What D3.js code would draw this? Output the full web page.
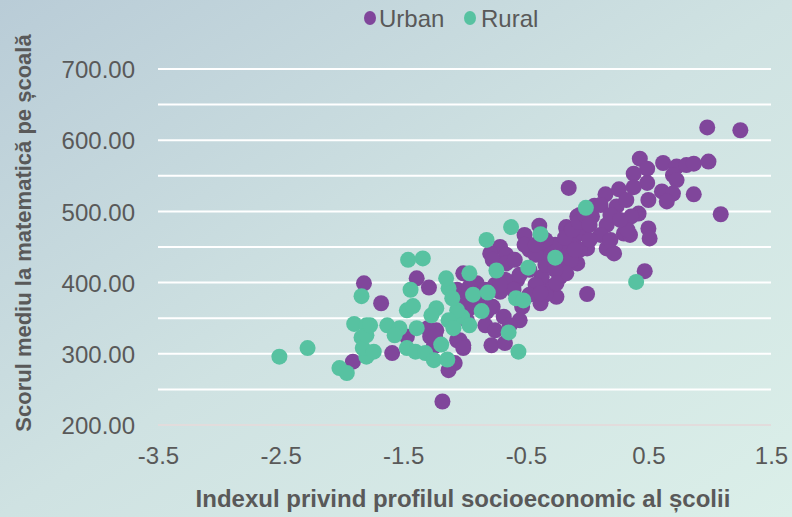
<!DOCTYPE html>
<html>
<head>
<meta charset="utf-8">
<script src="https://cdn.jsdelivr.net/npm/d3@7/dist/d3.min.js"></script>
<style>
  html, body { margin: 0; padding: 0; background: #ffffff; }
  svg { display: block; }
</style>
</head>
<body>
<svg id="chart" width="792" height="517"></svg>
<script>
// ---- Data ----
const seriesNames = ["Urban", "Rural"];
const xTicks = [-3.5, -2.5, -1.5, -0.5, 0.5, 1.5];
const yTicks = [200, 300, 400, 500, 600, 700];
const yGrid = [250, 300, 350, 400, 450, 500, 550, 600, 650, 700];

const urbanX = [-1.82,-1.91,-1.68,-1.59,-1.47,-1.39,-1.29,-1.23,-1.28,-1.25,-1.18,-1.08,-1.13,-1.06,-1.01,-0.98,-1.06,-1.01,-0.90,-0.83,
  -0.78,-0.67,-0.68,-0.77,-0.53,-0.38,-0.25,-0.32,-0.37,-0.57,-0.22,-0.22,-0.17,-0.11,-0.17,-0.22,-0.06,-0.39,-0.51,-0.71,
  -0.79,-0.66,-0.77,-0.66,0.98,1.25,0.43,0.62,0.49,0.73,0.81,0.87,0.99,0.70,0.73,0.38,0.49,-0.15,0.15,0.26,
  0.38,0.61,0.70,0.87,0.50,0.65,0.24,0.32,0.42,1.09,0.06,0.16,-0.17,0.30,0.50,0.51,0.35,-0.47,-0.32,0.00,
  0.16,0.22,-0.08,0.47,0.00,0.36,0.33,-0.08,-0.13,-0.03,0.04,-0.17,-0.06,-0.13,-0.17,
  -0.89,-0.83,-0.75,-0.67,-0.60,-0.55,-0.47,-0.42,-0.34,-0.30,-0.26,-0.18,-0.12,-0.07,-0.02,0.02,0.11,0.19,0.11,0.02,
  -0.10,-0.26,-0.34,-0.47,-0.59,-0.51,-0.42,-0.34,-0.71,-0.82,-0.96,-1.02,-0.96,-1.30,-1.24,-1.04,-1.01,-0.79,-0.96,-0.71,
  -0.38,-0.25,-0.55,-0.63,-0.75,0.27,0.19,-0.42];
const urbanY = [399,289,371,301,324,406,393,333,324,310,233,287,277,319,312,347,390,413,399,340,
  312,315,352,366,366,371,380,394,408,404,408,422,439,460,478,450,495,480,467,450,
  441,439,432,427,618,614,574,568,560,563,565,567,570,551,544,553,540,533,524,531,
  534,528,525,524,516,514,507,516,497,496,508,481,476,469,476,462,467,446,446,448,
  448,441,427,416,384,493,474,493,474,469,493,450,446,432,413,
  376,390,397,404,390,411,418,397,425,439,453,463,474,485,495,481,509,495,467,460,
  446,418,383,383,432,453,439,460,387,359,364,376,390,336,324,319,308,366,394,397,
  385,399,347,340,333,488,460,453];

const ruralX = [-2.51,-2.28,-2.02,-1.96,-1.90,-1.84,-1.84,-1.80,-1.80,-1.83,-1.80,-1.74,-1.77,-1.63,-1.53,-1.39,-1.57,-1.47,-1.40,-1.32,
  -1.25,-1.19,-1.14,-1.47,-1.42,-1.23,-1.27,-1.02,-1.06,-0.86,-1.13,-1.09,-0.96,-0.64,-0.56,-1.44,-1.13,-0.93,-0.81,-0.58,
  -0.52,-1.10,-1.15,-0.96,-0.74,-0.48,-1.46,-1.34,-0.26,-0.82,-0.62,-0.38,-0.01,0.40];
const ruralY = [296,308,280,273,342,381,323,340,296,308,326,303,340,340,336,336,326,308,303,301,
  291,313,292,361,367,364,354,352,361,360,347,336,340,330,303,390,392,383,386,378,
  375,378,406,413,417,421,432,434,435,460,478,468,505,401];

const colors = { Urban: "#80469b", Rural: "#57c2a1" };

// ---- Layout ----
const W = 792, H = 517;
const plot = { left: 158, right: 771, top: 69, bottom: 425 };
const svg = d3.select("#chart");

const defs = svg.append("defs");
const grad = defs.append("linearGradient").attr("id", "bg")
  .attr("x1", "0%").attr("y1", "0%").attr("x2", "100%").attr("y2", "100%");
grad.append("stop").attr("offset", "0%").attr("stop-color", "#b9ccd7");
grad.append("stop").attr("offset", "50%").attr("stop-color", "#cfe2e2");
grad.append("stop").attr("offset", "100%").attr("stop-color", "#dbefe9");
svg.append("rect").attr("width", W).attr("height", H).attr("fill", "url(#bg)");

const x = d3.scaleLinear().domain([-3.5, 1.5]).range([plot.left, plot.right]);
const y = d3.scaleLinear().domain([200, 700]).range([plot.bottom, plot.top]);

// gridlines
svg.append("g").selectAll("line").data(yGrid).join("line")
  .attr("x1", plot.left).attr("x2", plot.right)
  .attr("y1", d => y(d)).attr("y2", d => y(d))
  .attr("stroke", "#ffffff").attr("stroke-width", 2);
// baseline (x axis line)
svg.append("line")
  .attr("x1", plot.left).attr("x2", plot.right)
  .attr("y1", y(200)).attr("y2", y(200))
  .attr("stroke", "#e2dcdc").attr("stroke-width", 2);

const font = "'Liberation Sans', Arial, sans-serif";
const textColor = "#595959";

// y axis labels
const yAxis = d3.axisLeft(y).tickValues(yTicks).tickFormat(d3.format(".2f")).tickSize(0).tickPadding(0);
const gy = svg.append("g").attr("transform", `translate(${135},0)`).call(yAxis);
gy.select(".domain").remove();
gy.selectAll("text").attr("font-family", font).attr("font-size", 24).attr("fill", textColor)
  .attr("dy", "0.36em");

// x axis labels
const xAxis = d3.axisBottom(x).tickValues(xTicks).tickFormat(d => d3.format(".1f")(d).replace("−", "-")).tickSize(0).tickPadding(0);
const gx = svg.append("g").attr("transform", `translate(0,${447})`).call(xAxis);
gx.select(".domain").remove();
gx.selectAll("text").attr("font-family", font).attr("font-size", 24).attr("fill", textColor)
  .attr("dy", "0.71em");

// axis titles
svg.append("text").attr("x", 463).attr("y", 507).attr("text-anchor", "middle")
  .attr("font-family", font).attr("font-size", 24).attr("font-weight", "bold").attr("fill", textColor)
  .text("Indexul privind profilul socioeconomic al școlii");
svg.append("text").attr("transform", `translate(31,${233}) rotate(-90)`).attr("text-anchor", "middle")
  .attr("font-family", font).attr("font-size", 22).attr("font-weight", "bold").attr("fill", textColor)
  .text("Scorul mediu la matematică pe școală");

// points
const urban = urbanX.map((v, i) => ({ x: v, y: urbanY[i] }));
const rural = ruralX.map((v, i) => ({ x: v, y: ruralY[i] }));
svg.append("g").selectAll("circle").data(urban).join("circle")
  .attr("cx", d => x(d.x)).attr("cy", d => y(d.y)).attr("r", 8).attr("fill", colors.Urban);
svg.append("g").selectAll("circle").data(rural).join("circle")
  .attr("cx", d => x(d.x)).attr("cy", d => y(d.y)).attr("r", 8).attr("fill", colors.Rural);

// legend
const legend = svg.append("g");
const legItems = [{ name: "Urban", cx: 370, tx: 379 }, { name: "Rural", cx: 470, tx: 481 }];
legItems.forEach(it => {
  legend.append("ellipse").attr("cx", it.cx).attr("cy", 18).attr("rx", 6).attr("ry", 7).attr("fill", colors[it.name]);
  legend.append("text").attr("x", it.tx).attr("y", 27).attr("font-family", font).attr("font-size", 24)
    .attr("fill", textColor).text(it.name);
});
</script>
</body>
</html>
